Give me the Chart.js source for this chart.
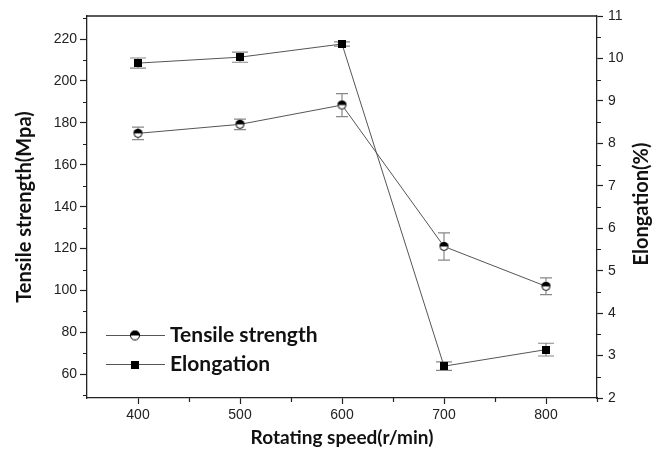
<!DOCTYPE html>
<html>
<head>
<meta charset="utf-8">
<script src="https://cdn.jsdelivr.net/npm/chart.js@4/dist/chart.umd.min.js"></script>
<style>
  html, body { margin: 0; padding: 0; background: #fff; }
  #wrap { width: 664px; height: 449px; position: relative; }
</style>
</head>
<body>
<div id="wrap"><canvas id="c" width="664" height="449"></canvas></div>
<script>
// ---- data ----
const speeds = [400, 500, 600, 700, 800];
const tensileStrength = [175, 179.3, 188.5, 121, 102];
const tensileError = [3, 2.5, 5.5, 6.5, 4];
const elongation = [9.89, 10.03, 10.34, 2.75, 3.14];
const elongationError = [0.12, 0.12, 0.05, 0.1, 0.15];
const xTickValues = [400, 500, 600, 700, 800];
const xMinorTicks = [450, 550, 650, 750, 850];
const leftTickValues = [60, 80, 100, 120, 140, 160, 180, 200, 220];
const leftMinorTicks = [50, 70, 90, 110, 130, 150, 170, 190, 210, 230];
const rightTickValues = [2, 3, 4, 5, 6, 7, 8, 9, 10, 11];
const rightMinorTicks = [2.5, 3.5, 4.5, 5.5, 6.5, 7.5, 8.5, 9.5, 10.5];
const seriesNames = ['Tensile strength', 'Elongation'];
const rightAxisTitle = 'Elongation(%)';

const AXIS = '#222';
const LINE = '#555';
const ERR = '#888';
const TITLE_FAMILY = 'Lato, "Liberation Sans", sans-serif';

function halfCircle(d) {
  const c = document.createElement('canvas');
  c.width = d + 2; c.height = d + 2;
  const g = c.getContext('2d');
  const r = d / 2, cx = (d + 2) / 2, cy = (d + 2) / 2;
  g.fillStyle = '#fff';
  g.beginPath(); g.arc(cx, cy, r, 0, Math.PI * 2); g.fill();
  g.fillStyle = '#000';
  g.beginPath(); g.arc(cx, cy, r, Math.PI, 0); g.closePath(); g.fill();
  g.strokeStyle = '#000'; g.lineWidth = 1;
  g.beginPath(); g.arc(cx, cy, r - 0.5, 0, Math.PI * 2); g.stroke();
  return c;
}
function square(d) {
  const c = document.createElement('canvas');
  c.width = d; c.height = d;
  const g = c.getContext('2d');
  g.fillStyle = '#000'; g.fillRect(0, 0, d, d);
  return c;
}
const circleMark = halfCircle(9);
const squareMark = square(8);
const circleLegend = halfCircle(10);
const squareLegend = square(8);

const errorBars = {
  id: 'errorBars',
  beforeDatasetsDraw(chart) {
    const ctx = chart.ctx;
    const x = chart.scales.x;
    const sets = [
      { vals: tensileStrength, errs: tensileError, scale: chart.scales.y, cap: 6 },
      { vals: elongation, errs: elongationError, scale: chart.scales.y2, cap: 8 }
    ];
    ctx.save();
    ctx.strokeStyle = ERR;
    ctx.lineWidth = 1.2;
    sets.forEach(s => {
      s.vals.forEach((v, i) => {
        const px = x.getPixelForValue(speeds[i]);
        const top = s.scale.getPixelForValue(v + s.errs[i]);
        const bot = s.scale.getPixelForValue(v - s.errs[i]);
        ctx.beginPath();
        ctx.moveTo(px, top); ctx.lineTo(px, bot);
        ctx.moveTo(px - s.cap, top); ctx.lineTo(px + s.cap, top);
        ctx.moveTo(px - s.cap, bot); ctx.lineTo(px + s.cap, bot);
        ctx.stroke();
      });
    });
    ctx.restore();
  }
};

const frameAndMinor = {
  id: 'frameAndMinor',
  afterDraw(chart) {
    const ctx = chart.ctx;
    const a = chart.chartArea;
    const { x, y, y2 } = chart.scales;
    ctx.save();
    ctx.strokeStyle = AXIS;
    ctx.lineWidth = 1.3;
    ctx.beginPath();
    ctx.moveTo(a.left, a.top); ctx.lineTo(a.right, a.top);
    ctx.stroke();
    ctx.lineWidth = 1.2;
    ctx.beginPath();
    leftMinorTicks.forEach(v => {
      const py = Math.round(y.getPixelForValue(v)) + 0.5;
      ctx.moveTo(a.left, py); ctx.lineTo(a.left - 4, py);
    });
    rightMinorTicks.forEach(v => {
      const py = Math.round(y2.getPixelForValue(v)) + 0.5;
      ctx.moveTo(a.right, py); ctx.lineTo(a.right + 4, py);
    });
    xMinorTicks.forEach(v => {
      const px = Math.round(x.getPixelForValue(v)) + 0.5;
      ctx.moveTo(px, a.bottom); ctx.lineTo(px, a.bottom + 4);
    });
    ctx.stroke();

    // right axis title (reads bottom-to-top)
    ctx.save();
    ctx.translate(642, (a.top + a.bottom) / 2 - 3);
    ctx.rotate(-Math.PI / 2);
    ctx.font = 'bold 20px ' + TITLE_FAMILY;
    ctx.fillStyle = '#111';
    ctx.textAlign = 'center';
    ctx.textBaseline = 'middle';
    ctx.fillText(rightAxisTitle, 0, 0);
    ctx.restore();

    // legend
    const items = [
      { label: seriesNames[0], mark: circleLegend, y: 335 },
      { label: seriesNames[1], mark: squareLegend, y: 364 }
    ];
    ctx.font = 'bold 21px ' + TITLE_FAMILY;
    ctx.textBaseline = 'middle';
    ctx.textAlign = 'left';
    ctx.fillStyle = '#111';
    items.forEach(it => {
      ctx.strokeStyle = LINE; ctx.lineWidth = 1;
      ctx.beginPath(); ctx.moveTo(106, it.y + 0.5); ctx.lineTo(165, it.y + 0.5); ctx.stroke();
      ctx.drawImage(it.mark, 135 - it.mark.width / 2, it.y - it.mark.height / 2 + 0.5);
      ctx.fillText(it.label, 170, it.y);
    });
    ctx.restore();
  }
};

const tickFont = { family: '"Liberation Sans", Arial, sans-serif', size: 14 };

new Chart(document.getElementById('c'), {
  type: 'line',
  data: {
    datasets: [
      {
        label: seriesNames[0],
        data: speeds.map((s, i) => ({ x: s, y: tensileStrength[i] })),
        yAxisID: 'y',
        borderColor: LINE, borderWidth: 1,
        pointStyle: circleMark, pointRadius: 5,
        tension: 0
      },
      {
        label: seriesNames[1],
        data: speeds.map((s, i) => ({ x: s, y: elongation[i] })),
        yAxisID: 'y2',
        borderColor: LINE, borderWidth: 1,
        pointStyle: squareMark, pointRadius: 5,
        tension: 0
      }
    ]
  },
  options: {
    responsive: false,
    animation: false,
    layout: { padding: { top: 16, left: 0, right: 0, bottom: 0 } },
    plugins: { legend: { display: false }, tooltip: { enabled: false } },
    scales: {
      x: {
        type: 'linear', min: 350, max: 850,
        afterBuildTicks: s => { s.ticks = xTickValues.map(v => ({ value: v })); },
        afterFit: s => { s.height = 51; },
        grid: { drawOnChartArea: false, drawTicks: true, tickLength: 6, tickColor: AXIS, tickWidth: 1.2 },
        border: { color: AXIS, width: 1.3 },
        ticks: { color: '#222', font: tickFont, padding: 3, maxRotation: 0 },
        title: { display: true, text: 'Rotating speed(r/min)', color: '#111',
                 font: { family: TITLE_FAMILY, size: 19, weight: 'bold' }, padding: { top: 0, bottom: 0 } }
      },
      y: {
        type: 'linear', position: 'left', min: 48.7, max: 231,
        afterBuildTicks: s => { s.ticks = leftTickValues.map(v => ({ value: v })); },
        afterFit: s => { s.width = 87; },
        grid: { drawOnChartArea: false, drawTicks: true, tickLength: 7, tickColor: AXIS, tickWidth: 1.2 },
        border: { color: AXIS, width: 1.3 },
        ticks: { color: '#222', font: tickFont, padding: 3 },
        title: { display: true, text: 'Tensile strength(Mpa)', color: '#111',
                 font: { family: TITLE_FAMILY, size: 20, weight: 'bold' }, padding: { top: 13, bottom: 0 } }
      },
      y2: {
        type: 'linear', position: 'right', min: 2, max: 11,
        afterBuildTicks: s => { s.ticks = rightTickValues.map(v => ({ value: v })); },
        afterFit: s => { s.width = 67; },
        grid: { drawOnChartArea: false, drawTicks: true, tickLength: 6, tickColor: AXIS, tickWidth: 1.2 },
        border: { color: AXIS, width: 1.3 },
        ticks: { color: '#222', font: tickFont, padding: 5 },
        title: { display: false }
      }
    }
  },
  plugins: [errorBars, frameAndMinor]
});
</script>
</body>
</html>
